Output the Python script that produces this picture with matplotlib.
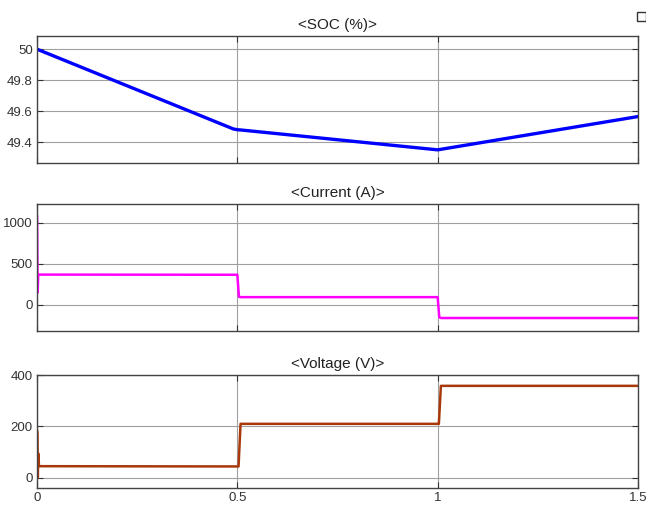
import matplotlib
matplotlib.use("Agg")
import matplotlib.pyplot as plt
from matplotlib.patches import Rectangle

plt.rcParams['font.family'] = ['Liberation Sans', 'DejaVu Sans']

# SOC (%)
soc_t = [0.0, 0.49, 0.5, 0.51, 1.0, 1.5]
soc_v = [50.0, 49.485, 49.48, 49.478, 49.35, 49.565]

# Current (A)
cur_t = [0.0, 0.0015, 0.003, 0.5, 0.504, 0.508, 1.0, 1.004, 1.008, 1.5]
cur_v = [1080, 150, 370, 368, 100, 95, 95, -150, -160, -160]

# Voltage (V)
vol_t = [0.0, 0.0012, 0.002, 0.003, 0.005, 0.5, 0.503, 0.508, 1.0, 1.003, 1.008, 1.5]
vol_v = [185, 175, 0, 95, 45, 44, 44, 210, 210, 210, 358, 358]

titles = ["<SOC (%)>", "<Current (A)>", "<Voltage (V)>"]
xticks = [0, 0.5, 1, 1.5]
xticklabels = ["0", "0.5", "1", "1.5"]

fig = plt.figure(figsize=(6.46, 5.11), dpi=100)
left, width = 0.0573, 0.9303
rects = [(left, 0.681, width, 0.2485),
         (left, 0.352, width, 0.2485),
         (left, 0.045, width, 0.221)]
axs = [fig.add_axes(r) for r in rects]

series = [(soc_t, soc_v, "#0000FF", 2.4),
          (cur_t, cur_v, "#FF00FF", 1.8),
          (vol_t, vol_v, "#A8380A", 1.8)]
ylims = [(49.265, 50.085), (-320, 1230), (-40, 400)]
yticks = [[49.4, 49.6, 49.8, 50], [0, 500, 1000], [0, 200, 400]]
yticklabels = [["49.4", "49.6", "49.8", "50"], ["0", "500", "1000"], ["0", "200", "400"]]

for ax, (t, v, c, lw), yl, yt, ytl, ttl in zip(axs, series, ylims, yticks, yticklabels, titles):
    ax.plot(t, v, color=c, lw=lw, solid_joinstyle="round")
    ax.set_xlim(0, 1.5)
    ax.set_ylim(*yl)
    ax.set_xticks(xticks)
    ax.set_yticks(yt)
    ax.set_yticklabels(ytl)
    ax.grid(True, color="#A0A0A0", lw=0.8)
    ax.set_axisbelow(True)
    ax.tick_params(direction="in", top=True, right=True, length=4, width=0.8,
                   labelsize=9.5, colors="#333333", pad=3)
    for s in ax.spines.values():
        s.set_color("#444444")
        s.set_linewidth(1.0)
    ax.set_title(ttl, fontsize=11, pad=5, color="#222222")

axs[0].tick_params(labelbottom=False)
axs[1].tick_params(labelbottom=False)
axs[2].set_xticklabels(xticklabels)

# small dock icon at top right
fig.patches.append(Rectangle((0.986, 0.958), 0.014, 0.018, transform=fig.transFigure,
                             fill=False, edgecolor="#333333", lw=1.0))

fig.savefig("out.png", dpi=100)
